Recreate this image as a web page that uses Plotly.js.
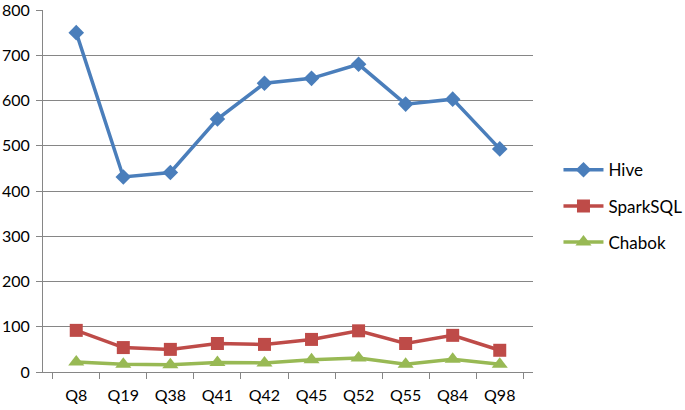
<!DOCTYPE html>
<html>
<head>
<meta charset="utf-8">
<script src="https://cdn.plot.ly/plotly-3.0.1.min.js"></script>
<style>html,body{margin:0;padding:0;background:#fff;}#chart{width:685px;height:410px;}</style>
</head>
<body>
<div id="chart"></div>
<script>
const categories = ["Q8","Q19","Q38","Q41","Q42","Q45","Q52","Q55","Q84","Q98"];
const hive = [750, 431, 441, 559, 638, 649, 680, 592, 603, 493];
const sparkSQL = [92, 54, 50, 63, 61, 72, 91, 63, 81, 48];
const chabok = [22, 17, 16, 21, 20, 27, 31, 17, 28, 17];
const yTicks = [0, 100, 200, 300, 400, 500, 600, 700, 800];

function trace(name, y, color, symbol, size) {
  return {
    type: "scatter", mode: "lines+markers", name: name, x: categories, y: y,
    legendgroup: name,
    line: {color: color, width: 3.5},
    marker: {symbol: symbol, size: size, color: color}
  };
}
const data = [
  trace("Hive", hive, "#4A7EBB", "diamond", 12),
  trace("SparkSQL", sparkSQL, "#BE4B48", "square", 13),
  trace("Chabok", chabok, "#98B954", "triangle-up", 14)
];
const layout = {
  width: 685, height: 410,
  margin: {l: 43, r: 152, t: 10, b: 38, autoexpand: false},
  paper_bgcolor: "#fff", plot_bgcolor: "#fff",
  font: {family: "Lato, 'Open Sans', sans-serif", size: 16, color: "#000"},
  showlegend: true,
  legend: {x: 1.052, y: 0.607, xanchor: "left", yanchor: "top", tracegroupgap: 11,
           traceorder: "grouped", font: {size: 17}, itemwidth: 40},
  xaxis: {
    type: "category", showgrid: false, zeroline: false, automargin: false,
    showline: true, linecolor: "#868686", linewidth: 1,
    ticks: "outside", tickson: "boundaries", ticklen: 6, tickcolor: "#868686",
    ticklabelstandoff: 9, tickfont: {size: 16}
  },
  yaxis: {
    range: [0, 800], tickvals: yTicks, showgrid: true, gridcolor: "#868686", gridwidth: 1,
    zeroline: false, showline: true, linecolor: "#868686", linewidth: 1, automargin: false,
    ticks: "outside", ticklen: 6, tickcolor: "#868686", ticklabelstandoff: 3, tickfont: {size: 16},
    ticklabeloverflow: "allow"
  }
};
Plotly.newPlot("chart", data, layout, {staticPlot: true});
</script>
</body>
</html>
